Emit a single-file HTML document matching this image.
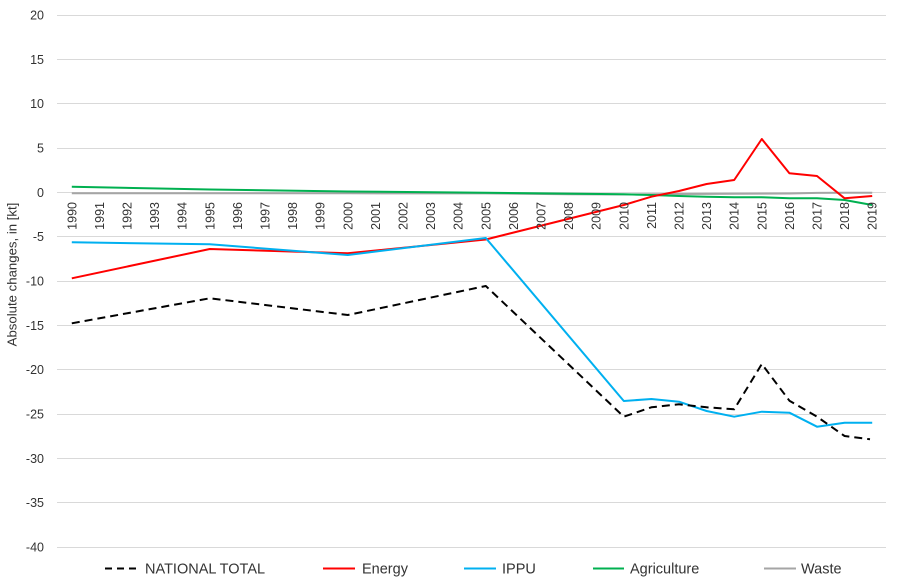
<!DOCTYPE html>
<html>
<head>
<meta charset="utf-8">
<style>
  html, body { margin: 0; padding: 0; background: #ffffff; }
  svg { display: block; }
  text { font-family: "Liberation Sans", "DejaVu Sans", sans-serif; fill: #333333; }
</style>
</head>
<body>
<svg width="900" height="581" viewBox="0 0 900 581" xmlns="http://www.w3.org/2000/svg">
  <rect x="0" y="0" width="900" height="581" fill="#ffffff"/>
  <!-- gridlines -->
  <g stroke="#d9d9d9" stroke-width="1">
    <line x1="57" x2="886" y1="15.5" y2="15.5"/>
    <line x1="57" x2="886" y1="59.5" y2="59.5"/>
    <line x1="57" x2="886" y1="103.5" y2="103.5"/>
    <line x1="57" x2="886" y1="148.5" y2="148.5"/>
    <line x1="57" x2="886" y1="192.5" y2="192.5"/>
    <line x1="57" x2="886" y1="236.5" y2="236.5"/>
    <line x1="57" x2="886" y1="281.5" y2="281.5"/>
    <line x1="57" x2="886" y1="325.5" y2="325.5"/>
    <line x1="57" x2="886" y1="369.5" y2="369.5"/>
    <line x1="57" x2="886" y1="414.5" y2="414.5"/>
    <line x1="57" x2="886" y1="458.5" y2="458.5"/>
    <line x1="57" x2="886" y1="502.5" y2="502.5"/>
    <line x1="57" x2="886" y1="547.5" y2="547.5"/>
  </g>
  <!-- y tick labels -->
  <g font-size="12.5" text-anchor="end">
    <text x="44" y="19.5">20</text>
    <text x="44" y="64">15</text>
    <text x="44" y="108">10</text>
    <text x="44" y="152.5">5</text>
    <text x="44" y="197">0</text>
    <text x="44" y="241">-5</text>
    <text x="44" y="285.5">-10</text>
    <text x="44" y="330">-15</text>
    <text x="44" y="374">-20</text>
    <text x="44" y="418.5">-25</text>
    <text x="44" y="463">-30</text>
    <text x="44" y="507">-35</text>
    <text x="44" y="551.5">-40</text>
  </g>
  <!-- y axis title -->
  <text font-size="13.2" text-anchor="middle" transform="translate(16.5,274.5) rotate(-90)">Absolute changes, in [kt]</text>

  <!-- series -->
  <g fill="none" stroke-width="2" stroke-linejoin="round">
    <!-- Waste -->
    <polyline stroke="#a5a5a5" points="71.8,193.3 209.8,193.3 347.8,193.3 485.8,193.4 568.6,194.2 623.8,194.5 679,194 789.4,193.5 817,192.9 844.6,192.7 872.2,192.7"/>
    <!-- Agriculture -->
    <polyline stroke="#00b050" points="71.8,186.7 209.8,189.5 347.8,191.5 485.8,192.7 623.8,194.3 651.4,195 679,196 706.6,196.8 734.2,197.3 761.8,197.3 789.4,198.3 817,198.3 844.6,200 872.2,205"/>
    <!-- Energy -->
    <polyline stroke="#ff0000" points="71.8,278.3 209.8,249 347.8,253.3 485.8,239.5 623.8,205 651.4,196.7 679,191 706.6,184 734.2,180 761.8,139 789.4,173.3 817,176 844.6,198.3 872.2,196"/>
    <!-- IPPU -->
    <polyline stroke="#00b0f0" points="71.8,242.3 209.8,244.3 347.8,255 485.8,238 623.8,401 651.4,399 679,401.7 706.6,411 734.2,416.7 761.8,411.7 789.4,412.7 817,426.7 844.6,422.7 872.2,422.7"/>
    <!-- National total -->
    <polyline stroke="#000000" stroke-dasharray="8,5" points="71.8,323.3 209.8,298.3 347.8,315 485.8,286 623.8,416.7 651.4,407.3 679,404.3 706.6,407.3 734.2,409.3 761.8,364 789.4,400.7 817,416.7 844.6,436 870,439.3"/>
  </g>

  <!-- x category labels -->
  <g font-size="12.5" text-anchor="end">
    <text transform="translate(76.3,202) rotate(-90)">1990</text>
    <text transform="translate(103.9,202) rotate(-90)">1991</text>
    <text transform="translate(131.5,202) rotate(-90)">1992</text>
    <text transform="translate(159.1,202) rotate(-90)">1993</text>
    <text transform="translate(186.7,202) rotate(-90)">1994</text>
    <text transform="translate(214.3,202) rotate(-90)">1995</text>
    <text transform="translate(241.9,202) rotate(-90)">1996</text>
    <text transform="translate(269.5,202) rotate(-90)">1997</text>
    <text transform="translate(297.1,202) rotate(-90)">1998</text>
    <text transform="translate(324.7,202) rotate(-90)">1999</text>
    <text transform="translate(352.3,202) rotate(-90)">2000</text>
    <text transform="translate(379.9,202) rotate(-90)">2001</text>
    <text transform="translate(407.5,202) rotate(-90)">2002</text>
    <text transform="translate(435.1,202) rotate(-90)">2003</text>
    <text transform="translate(462.7,202) rotate(-90)">2004</text>
    <text transform="translate(490.3,202) rotate(-90)">2005</text>
    <text transform="translate(517.9,202) rotate(-90)">2006</text>
    <text transform="translate(545.5,202) rotate(-90)">2007</text>
    <text transform="translate(573.1,202) rotate(-90)">2008</text>
    <text transform="translate(600.7,202) rotate(-90)">2009</text>
    <text transform="translate(628.3,202) rotate(-90)">2010</text>
    <text transform="translate(655.9,202) rotate(-90)">2011</text>
    <text transform="translate(683.5,202) rotate(-90)">2012</text>
    <text transform="translate(711.1,202) rotate(-90)">2013</text>
    <text transform="translate(738.7,202) rotate(-90)">2014</text>
    <text transform="translate(766.3,202) rotate(-90)">2015</text>
    <text transform="translate(793.9,202) rotate(-90)">2016</text>
    <text transform="translate(821.5,202) rotate(-90)">2017</text>
    <text transform="translate(849.1,202) rotate(-90)">2018</text>
    <text transform="translate(876.7,202) rotate(-90)">2019</text>
  </g>

  <!-- legend -->
  <g stroke-width="2" fill="none">
    <line x1="105" x2="138" y1="568.5" y2="568.5" stroke="#000000" stroke-dasharray="7,5"/>
    <line x1="323" x2="355" y1="568.5" y2="568.5" stroke="#ff0000"/>
    <line x1="464" x2="496" y1="568.5" y2="568.5" stroke="#00b0f0"/>
    <line x1="593" x2="624" y1="568.5" y2="568.5" stroke="#00b050"/>
    <line x1="764" x2="796" y1="568.5" y2="568.5" stroke="#a5a5a5"/>
  </g>
  <g font-size="14.5" style="fill:#262626">
    <text x="145" y="573.5" fill="#262626">NATIONAL TOTAL</text>
    <text x="362" y="573.5" fill="#262626">Energy</text>
    <text x="502" y="573.5" fill="#262626">IPPU</text>
    <text x="630" y="573.5" fill="#262626">Agriculture</text>
    <text x="801" y="573.5" fill="#262626">Waste</text>
  </g>
</svg>
</body>
</html>
